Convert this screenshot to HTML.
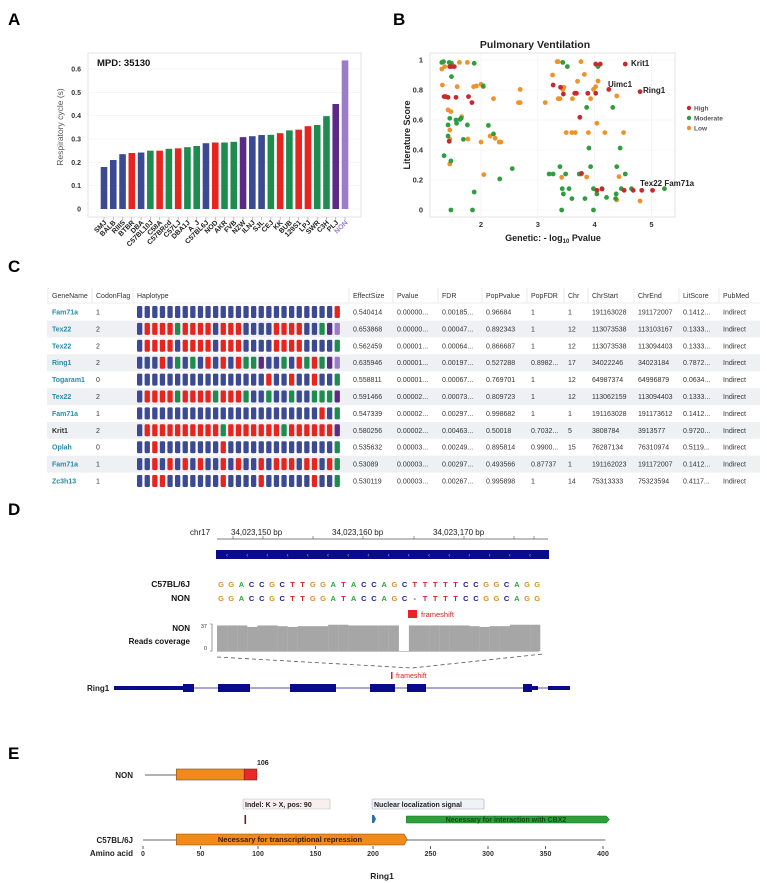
<!DOCTYPE html>
<html><head><meta charset="utf-8"><style>
body{margin:0;background:#fff;}
svg{display:block;font-family:"Liberation Sans",Arial,sans-serif;}
</style></head><body>
<svg id="fig" width="767" height="883" viewBox="0 0 767 883">
<g id="panelA"></g>
<g id="panelB"></g>
<g id="panelC"></g>
<g id="panelD"></g>
<g id="panelE"></g>
</svg>
<script>
// ---------- Panel A data ----------
const strains = ["SMJ","BALB","RIIIS","BTBR","DBA","C57BL10J","C58A","C57BRcd","C57LJ","DBA1J","A_J","C57BL6J","NOD","AKR","FVB","NZW","ILNJ","SJL","CEJ","KK","BUB","129S1","LPJ","SWR","C3H","PLJ","NON"];
const cycleValues = [0.18,0.21,0.235,0.24,0.242,0.25,0.25,0.258,0.26,0.265,0.27,0.282,0.285,0.285,0.288,0.308,0.312,0.317,0.318,0.325,0.337,0.34,0.355,0.36,0.398,0.45,0.637];
const strainGroups = ["b","b","b","r","b","g","r","g","r","g","g","b","r","g","g","p","b","b","g","r","g","r","r","g","g","p","l"];
const aTicks = [0,0.1,0.2,0.3,0.4,0.5,0.6];

// ---------- Panel B data ----------
const highX = [1.35,1.38,1.42,1.56,1.78,1.84,1.45,1.48,1.53,1.44,3.27,3.40,3.45,3.65,3.68,3.88,4.02,3.74,3.77,4.02,4.10,4.54,4.25,4.80,4.68,4.83,5.02,4.04,4.13,4.52];
const highY = [0.756,0.756,0.751,0.751,0.756,0.716,0.956,0.956,0.956,0.458,0.833,0.818,0.773,0.778,0.778,0.778,0.778,0.618,0.244,0.973,0.973,0.973,0.804,0.789,0.131,0.131,0.131,0.131,0.14,0.131];
const modX = [1.31,1.34,1.44,1.48,1.88,1.48,2.04,1.45,1.63,1.56,1.42,1.57,1.76,1.65,1.42,1.69,2.13,2.22,1.35,1.47,2.33,2.55,1.47,1.85,1.88,3.44,3.52,4.06,3.86,4.32,3.90,4.45,3.20,3.27,3.39,3.49,4.54,4.39,3.93,3.43,3.45,3.55,3.60,3.83,3.98,4.04,4.13,4.21,4.38,4.37,4.47,4.65,5.23,3.42,3.98,3.73];
const modY = [0.984,0.989,0.984,0.978,0.978,0.889,0.827,0.611,0.604,0.6,0.567,0.578,0.567,0.611,0.493,0.471,0.564,0.507,0.362,0.327,0.207,0.276,0,0,0.12,0.984,0.956,0.956,0.684,0.684,0.413,0.413,0.24,0.24,0.289,0.24,0.24,0.289,0.289,0.142,0.107,0.142,0.076,0.076,0.142,0.107,0.142,0.084,0.107,0.076,0.142,0.142,0.142,0,0,0.24];
const lowX = [1.31,1.36,1.32,1.62,1.76,2.0,1.92,1.87,2.04,1.58,2.69,2.66,2.69,2.22,1.42,1.47,1.66,1.45,1.45,1.77,2.0,2.16,2.25,2.32,2.35,1.45,2.05,3.13,3.26,3.34,3.36,3.76,3.44,3.46,3.39,3.36,3.61,3.70,3.82,3.98,4.02,4.06,3.93,4.39,3.50,3.60,3.66,3.89,4.04,4.18,4.51,4.43,3.42,3.86,4.39,4.80,3.76];
const lowY = [0.94,0.956,0.833,0.984,0.984,0.838,0.827,0.822,0.822,0.822,0.804,0.716,0.716,0.742,0.667,0.656,0.622,0.533,0.473,0.473,0.453,0.493,0.478,0.453,0.453,0.307,0.236,0.716,0.9,0.989,0.989,0.989,0.804,0.818,0.742,0.742,0.742,0.858,0.904,0.804,0.822,0.86,0.742,0.76,0.516,0.516,0.516,0.516,0.578,0.516,0.516,0.222,0.218,0.22,0.067,0.06,0.24];
const bXTicks = [2,3,4,5];
const bYTicks = [0,0.2,0.4,0.6,0.8,1];

const NS="http://www.w3.org/2000/svg";
function mk(parent,tag,attrs,text){const e=document.createElementNS(NS,tag);for(const k in attrs)e.setAttribute(k,attrs[k]);if(text!==undefined)e.textContent=text;parent.appendChild(e);return e;}
const COL={b:"#3b4a92",r:"#e8241f",g:"#1e8c4e",p:"#5a2a85",l:"#9b7cc9"};

// ---------- Panel A ----------
(function(){
const g=document.getElementById('panelA');
let t=mk(g,'text',{x:8,y:25,'font-size':17,'font-weight':'bold'},'A');

const x0=88,x1=361,yTop=53,yBot=217;
const yS=v=>209-v*233.3;
const xS=i=>104+i*9.27;
let fr=mk(g,'rect',{x:x0,y:yTop,width:x1-x0,height:yBot-yTop,fill:'#fff',stroke:'#ddd','stroke-width':0.8});

aTicks.forEach(v=>{
 mk(g,'line',{x1:x0,x2:x1,y1:yS(v),y2:yS(v),stroke:'#f0f0f0','stroke-width':0.6});
 let tl=mk(g,'text',{x:81,y:yS(v)+2.5,'font-size':7,'font-weight':'bold','text-anchor':'end',fill:'#333'},String(v));
 
});
let yt=mk(g,'text',{x:0,y:0,'font-size':8.5,fill:'#555','text-anchor':'middle',transform:'translate(63,127) rotate(-90)'},'Respiratory cycle (s)');

let mp=mk(g,'text',{x:97,y:66,'font-size':9.5,'font-weight':'bold',fill:'#111'},'MPD: 35130');

cycleValues.forEach((v,i)=>{
 const r=mk(g,'rect',{x:xS(i)-3.3,y:yS(v),width:6.6,height:yS(0)-yS(v),fill:COL[strainGroups[i]]});
 
 
 mk(g,'line',{x1:xS(i),x2:xS(i),y1:yBot,y2:yBot+3,stroke:'#999','stroke-width':0.6});
 const l=mk(g,'text',{x:0,y:0,'font-size':7,'font-weight':'bold','text-anchor':'end',fill:strainGroups[i]==='l'?'#9b7cc9':'#222',transform:`translate(${xS(i)+3},${yBot+6}) rotate(-45)`},strains[i]);
 
 
});
})();

// ---------- Panel B ----------
(function(){
const g=document.getElementById('panelB');
let t=mk(g,'text',{x:393,y:25,'font-size':17,'font-weight':'bold'},'B');

const x0=430,x1=675,yTop=53,yBot=217;
const xS=v=>481+(v-2)*56.8;
const yS=v=>210-v*150;
let fr=mk(g,'rect',{x:x0,y:yTop,width:x1-x0,height:yBot-yTop,fill:'#fff',stroke:'#ddd','stroke-width':0.8});

bYTicks.forEach(v=>{
 mk(g,'line',{x1:x0,x2:x1,y1:yS(v),y2:yS(v),stroke:'#f0f0f0','stroke-width':0.6});
 let l=mk(g,'text',{x:423,y:yS(v)+2.5,'font-size':7.5,'font-weight':'bold','text-anchor':'end',fill:'#333'},String(v));
 
});
bXTicks.forEach(v=>{
 mk(g,'line',{x1:xS(v),x2:xS(v),y1:yTop,y2:yBot,stroke:'#f0f0f0','stroke-width':0.6});
 let l=mk(g,'text',{x:xS(v),y:227,'font-size':7.5,'font-weight':'bold','text-anchor':'middle',fill:'#333'},String(v));
 
});
let tt=mk(g,'text',{x:535,y:48,'font-size':10.5,'font-weight':'bold','text-anchor':'middle',fill:'#222'},'Pulmonary Ventilation');

let yt=mk(g,'text',{x:0,y:0,'font-size':9,'font-weight':'bold','text-anchor':'middle',fill:'#222',transform:'translate(410,135) rotate(-90)'},'Literature Score');

let xt=mk(g,'text',{x:553,y:241,'font-size':9,'font-weight':'bold','text-anchor':'middle',fill:'#222'});
xt.innerHTML='Genetic: - log<tspan font-size="6" dy="2">10</tspan><tspan dy="-2"> Pvalue</tspan>';

function series(xs,ys,c,name){xs.forEach((x,i)=>{const p=mk(g,'circle',{cx:xS(x),cy:yS(ys[i]),r:2.4,fill:c});
 
 });}
series(lowX,lowY,'#f0922a','low');
series(modX,modY,'#2e9e3e','moderate');
series(highX,highY,'#c9282d','high');
[['Krit1',631,66],['Uimc1',608,87],['Ring1',643,93],['Tex22 Fam71a',640,186]].forEach(a=>{
 const l=mk(g,'text',{x:a[1],y:a[2],'font-size':8,'font-weight':'bold',fill:'#222'},a[0]);
 });
[['High','#c9282d',108],['Moderate','#2e9e3e',118],['Low','#f0922a',128]].forEach(a=>{
 const c=mk(g,'circle',{cx:689,cy:a[2],r:2.2,fill:a[1]});
 
 const l=mk(g,'text',{x:694,y:a[2]+2.5,'font-size':6.5,'font-weight':'bold',fill:'#555'},a[0]);
 });
})();

// ---------- Panel C ----------
const geneNames=["Fam71a","Tex22","Tex22","Ring1","Togaram1","Tex22","Fam71a","Krit1","Oplah","Fam71a","Zc3h13"];
const codonFlags=["1","2","2","2","0","2","1","2","0","1","1"];
const haplotypes=[
"BBBBBBBBBBBBBBBBBBBBBBBBBBR",
"BRRRRGRRRRBRRRBBBBRRRRBBGPL",
"BRRRRBRRRRBRRRBBBBRRRRBBBBG",
"BBBRBGBGBRBRBRGGPBBGBRGRGPL",
"BBBBBBBBBBBBBBBBBRBBRBBRBBG",
"BRRRRGRRRRGRRRGBBGBBGBBGGGP",
"BBBBBBBBBBBBBBBBBBBBBBBBRBG",
"BRRRRRRRRRRGRRRRRRRGRRRRRRP",
"BBRBBBBBBBBRBBBBBBBBBBBBBBG",
"BBRBRBRBRBBRBRBBRBRRRBRRBRG",
"BBRRBBBBBBBRBBBBRBBBBBBRBBG"];
const effectSize=["0.540414","0.653868","0.562459","0.635946","0.558811","0.591466","0.547339","0.580256","0.535632","0.53089","0.530119"];
const pvalue=["0.00000...","0.00000...","0.00001...","0.00001...","0.00001...","0.00002...","0.00002...","0.00002...","0.00003...","0.00003...","0.00003..."];
const fdr=["0.00185...","0.00047...","0.00064...","0.00197...","0.00067...","0.00073...","0.00297...","0.00463...","0.00249...","0.00297...","0.00267..."];
const popP=["0.96684","0.892343","0.866687","0.527288","0.769701","0.809723","0.998682","0.50018","0.895814","0.493566","0.995898"];
const popFdr=["1","1","1","0.8982...","1","1","1","0.7032...","0.9900...","0.87737","1"];
const chr=["1","12","12","17","12","12","1","5","15","1","14"];
const chrStart=["191163028","113073538","113073538","34022246","64987374","113062159","191163028","3808784","76287134","191162023","75313333"];
const chrEnd=["191172007","113103167","113094403","34023184","64996879","113094403","191173612","3913577","76310974","191172007","75323594"];
const litScore=["0.1412...","0.1333...","0.1333...","0.7872...","0.0634...","0.1333...","0.1412...","0.9720...","0.5119...","0.1412...","0.4117..."];
(function(){
const g=document.getElementById('panelC');
let t=mk(g,'text',{x:8,y:272,'font-size':17,'font-weight':'bold'},'C');

const heads=[["GeneName",52],["CodonFlag",96],["Haplotype",137],["EffectSize",353],["Pvalue",397],["FDR",442],["PopPvalue",486],["PopFDR",531],["Chr",568],["ChrStart",592],["ChrEnd",638],["LitScore",683],["PubMed",723]];
const rowY=i=>312+i*16.9;
for(let i=0;i<11;i++){ if(i%2===1){const r=mk(g,'rect',{x:47,y:rowY(i)-8.4,width:713,height:16.9,fill:'#eef0f3'});}}
mk(g,'line',{x1:47,x2:760,y1:303,y2:303,stroke:'#ddd','stroke-width':0.6});
heads.forEach((h,k)=>{
 const l=mk(g,'text',{x:h[1],y:298,'font-size':7,fill:'#333'},h[0]);
 
 mk(g,'line',{x1:h[1]-4,x2:h[1]-4,y1:288,y2:303,stroke:'#ddd','stroke-width':0.6});
});
for(let i=0;i<11;i++){
 const y=rowY(i)+2.5;
 const gn=mk(g,'text',{x:52,y:y,'font-size':7,'font-weight':'bold',fill:geneNames[i]==='Krit1'?'#333':'#2a8aa5'},geneNames[i]);
 
 const cols=[[codonFlags,96],[effectSize,353],[pvalue,397],[fdr,442],[popP,486],[popFdr,531],[chr,568],[chrStart,592],[chrEnd,638],[litScore,683]];
 cols.forEach(c=>{const l=mk(g,'text',{x:c[1],y:y,'font-size':7,fill:'#333'},c[0][i]);});
 const pm=mk(g,'text',{x:723,y:y,'font-size':7,fill:'#333'},'Indirect');
 
 haplotypes[i].split('').forEach((ch,j)=>{
  const b=mk(g,'rect',{x:137+j*7.6,y:rowY(i)-6,width:5.3,height:12,rx:1.2,fill:COL[ch.toLowerCase()]});
  
  
 });
}
})();

// ---------- Panel D ----------
const refSeq="GGACCGCTTGGATACCAGCTTTTTCCGGCAGG";
const nonSeq="GGACCGCTTGGATACCAGC-TTTTCCGGCAGG";
const coverage=[35,35,35,33,35,35,34,33,34,34,34,36,36,35,35,35,35,35,0,35,35,35,35,35,35,34,33,34,34,36,36,36];
(function(){
const g=document.getElementById('panelD');
let t=mk(g,'text',{x:8,y:515,'font-size':17,'font-weight':'bold'},'D');

let l=mk(g,'text',{x:190,y:535,'font-size':8,fill:'#222'},'chr17');
[['34,023,150 bp',231],['34,023,160 bp',332],['34,023,170 bp',433]].forEach(a=>{const e=mk(g,'text',{x:a[1],y:535,'font-size':8,fill:'#222'},a[0]);});
mk(g,'line',{x1:217,x2:548,y1:539,y2:539,stroke:'#555','stroke-width':0.7});
[233,263,313,363,414,464,514,534].forEach(x=>mk(g,'line',{x1:x,x2:x,y1:536,y2:539,stroke:'#555','stroke-width':0.6}));
let gb=mk(g,'rect',{x:216,y:550,width:333,height:9,fill:'#0a0a8c'});
for(let k=0;k<16;k++)mk(g,'text',{x:226+k*20.2,y:557,'font-size':6,fill:'#aab'},'‹');
[['C57BL/6J',587],['NON',601]].forEach(a=>{const e=mk(g,'text',{x:190,y:a[1],'font-size':8.5,'font-weight':'bold','text-anchor':'end',fill:'#111'},a[0]);});
const bc={G:'#d8902a',A:'#2aa83a',C:'#1c1c96',T:'#d42424','-':'#444'};
[[refSeq,587],[nonSeq,601]].forEach(s=>{s[0].split('').forEach((ch,i)=>{const e=mk(g,'text',{x:221+i*10.2,y:s[1],'font-size':7.5,'font-weight':'bold','text-anchor':'middle',fill:bc[ch]},ch);});});
let fs=mk(g,'rect',{x:408,y:610,width:9,height:8,fill:'#e8242a'});
let ft=mk(g,'text',{x:421,y:617,'font-size':7.5,fill:'#d42424'},'frameshift');
[['NON',631],['Reads coverage',644]].forEach(a=>{const e=mk(g,'text',{x:190,y:a[1],'font-size':8,'font-weight':'bold','text-anchor':'end',fill:'#111'},a[0]);});
mk(g,'text',{x:207,y:628,'font-size':5.5,fill:'#333','text-anchor':'end'},'37');
mk(g,'text',{x:207,y:650,'font-size':5.5,fill:'#333','text-anchor':'end'},'0');
mk(g,'path',{d:'M210 624 h2 v27 h-2',fill:'none',stroke:'#555','stroke-width':0.6});
const cy=v=>651-v*(27/37);
coverage.forEach((v,i)=>{const x=217+i*10.1;const r=mk(g,'rect',{x:x,y:cy(v),width:10.2,height:651-cy(v),fill:'#a6a6a6'});
 
 });
mk(g,'line',{x1:217,x2:539,y1:651.5,y2:651.5,stroke:'#888','stroke-width':0.6});
mk(g,'path',{d:'M217 657 L412 668 L543 654',fill:'none',stroke:'#555','stroke-width':0.8,'stroke-dasharray':'4,3'});
let rl=mk(g,'text',{x:87,y:691,'font-size':8,'font-weight':'bold',fill:'#222'},'Ring1');
mk(g,'line',{x1:114,x2:570,y1:688,y2:688,stroke:'#1a1a8c','stroke-width':0.8});
[[114,183,4],[532,538,4],[548,570,4]].forEach(s=>mk(g,'rect',{x:s[0],y:688-s[2]/2,width:s[1]-s[0],height:s[2],fill:'#0a0a8c'}));
[[183,194],[218,250],[290,336],[370,395],[407,426],[523,532]].forEach(s=>{const r=mk(g,'rect',{x:s[0],y:684,width:s[1]-s[0],height:8,fill:'#0a0a8c'});});
mk(g,'rect',{x:391,y:672,width:1.5,height:7,fill:'#d42424'});
let f2=mk(g,'text',{x:396,y:678,'font-size':7,fill:'#d42424'},'frameshift');
})();

// ---------- Panel E ----------
const aaTicks=[0,50,100,150,200,250,300,350,400];
(function(){
const g=document.getElementById('panelE');
let t=mk(g,'text',{x:8,y:759,'font-size':17,'font-weight':'bold'},'E');

const xS=a=>143+a*1.15;
let nl=mk(g,'text',{x:133,y:778,'font-size':8,'font-weight':'bold','text-anchor':'end',fill:'#222'},'NON');
mk(g,'line',{x1:145,x2:xS(29),y1:775,y2:775,stroke:'#333','stroke-width':0.8});
let ob=mk(g,'rect',{x:xS(29),y:769,width:xS(88)-xS(29),height:11,fill:'#f08a1c',stroke:'#8a4a10','stroke-width':0.6});
let rb=mk(g,'rect',{x:xS(88),y:769,width:xS(99)-xS(88),height:11,fill:'#e62a2a',stroke:'#8a1a10','stroke-width':0.6});
mk(g,'text',{x:257,y:765,'font-size':7,'font-weight':'bold',fill:'#222'},'106');
let ib=mk(g,'rect',{x:243,y:799,width:87,height:10,fill:'#fbeeee',stroke:'#bbb','stroke-width':0.6,rx:1});
mk(g,'text',{x:245,y:807,'font-size':7,'font-weight':'bold',fill:'#222'},'Indel: K > X, pos: 90');
mk(g,'rect',{x:244.5,y:815,width:1.6,height:9,fill:'#6a2020'});
let nb=mk(g,'rect',{x:372,y:799,width:112,height:10,fill:'#eef3f8',stroke:'#aab','stroke-width':0.6,rx:1});
mk(g,'text',{x:374,y:807,'font-size':7,'font-weight':'bold',fill:'#222'},'Nuclear localization signal');
mk(g,'path',{d:'M372 815 h2 l2 4 l-2 4 h-2 z',fill:'#2a6fa8'});
let ga=mk(g,'path',{d:`M${xS(229)} 816 H${xS(403)} l3 3.5 l-3 3.5 H${xS(229)} Z`,fill:'#2ea03a',stroke:'#1a6a22','stroke-width':0.5});
mk(g,'text',{x:506,y:822,'font-size':7,'font-weight':'bold','text-anchor':'middle',fill:'#144a18'},'Necessary for interaction with CBX2');
let cl=mk(g,'text',{x:133,y:843,'font-size':8,'font-weight':'bold','text-anchor':'end',fill:'#222'},'C57BL/6J');
mk(g,'line',{x1:143,x2:xS(402),y1:840,y2:840,stroke:'#333','stroke-width':0.8});
let oa=mk(g,'path',{d:`M${xS(29)} 834 H${xS(227)} l3 5.5 l-3 5.5 H${xS(29)} Z`,fill:'#f08a1c',stroke:'#8a4a10','stroke-width':0.6});
mk(g,'text',{x:290,y:842,'font-size':7.5,'font-weight':'bold','text-anchor':'middle',fill:'#3a1a00'},'Necessary for transcriptional repression');
let al=mk(g,'text',{x:133,y:856,'font-size':8,'font-weight':'bold','text-anchor':'end',fill:'#222'},'Amino acid');
aaTicks.forEach(a=>{mk(g,'line',{x1:xS(a),x2:xS(a),y1:846,y2:849,stroke:'#333','stroke-width':0.8});
 const l=mk(g,'text',{x:xS(a),y:856,'font-size':7,'font-weight':'bold','text-anchor':'middle',fill:'#333'},String(a));
 
 });
let rt=mk(g,'text',{x:382,y:879,'font-size':8.5,'font-weight':'bold','text-anchor':'middle',fill:'#222'},'Ring1');
})();
</script>
</body></html>
